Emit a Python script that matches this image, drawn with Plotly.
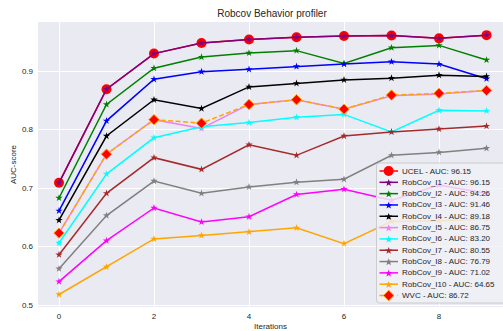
import math
import plotly.graph_objects as go

# ---------------- data ----------------
iterations = [0, 1, 2, 3, 4, 5, 6, 7, 8, 9]

ucel       = [0.709, 0.869, 0.930, 0.948, 0.954, 0.958, 0.960, 0.961, 0.956, 0.9615]
robcov_i1  = [0.709, 0.869, 0.930, 0.948, 0.954, 0.958, 0.960, 0.961, 0.956, 0.9615]
robcov_i2  = [0.683, 0.843, 0.905, 0.924, 0.931, 0.935, 0.913, 0.940, 0.944, 0.919]
robcov_i3  = [0.661, 0.815, 0.886, 0.899, 0.903, 0.908, 0.912, 0.916, 0.912, 0.887]
robcov_i4  = [0.645, 0.789, 0.851, 0.836, 0.873, 0.879, 0.885, 0.888, 0.893, 0.891]
robcov_i5  = [0.623, 0.758, 0.817, 0.802, 0.843, 0.851, 0.835, 0.858, 0.861, 0.867]
robcov_i6  = [0.606, 0.724, 0.786, 0.805, 0.812, 0.821, 0.826, 0.796, 0.833, 0.832]
robcov_i7  = [0.586, 0.691, 0.752, 0.732, 0.774, 0.756, 0.789, 0.796, 0.801, 0.806]
robcov_i8  = [0.562, 0.653, 0.712, 0.691, 0.702, 0.710, 0.715, 0.756, 0.761, 0.768]
robcov_i9  = [0.540, 0.610, 0.666, 0.642, 0.651, 0.689, 0.698, 0.679, 0.705, 0.691]
robcov_i10 = [0.518, 0.565, 0.613, 0.619, 0.625, 0.632, 0.605, 0.643, 0.644, 0.6465]
wvc        = [0.623, 0.758, 0.817, 0.811, 0.843, 0.851, 0.835, 0.859, 0.862, 0.867]

labels = [
    "UCEL - AUC: 96.15",
    "RobCov_I1 - AUC: 96.15",
    "RobCov_I2 - AUC: 94.26",
    "RobCov_I3 - AUC: 91.46",
    "RobCov_I4 - AUC: 89.18",
    "RobCov_I5 - AUC: 86.75",
    "RobCov_I6 - AUC: 83.20",
    "RobCov_I7 - AUC: 80.55",
    "RobCov_I8 - AUC: 76.79",
    "RobCov_I9 - AUC: 71.02",
    "RobCov_I10 - AUC: 64.65",
    "WVC - AUC: 86.72",
]
series = [ucel, robcov_i1, robcov_i2, robcov_i3, robcov_i4, robcov_i5,
          robcov_i6, robcov_i7, robcov_i8, robcov_i9, robcov_i10, wvc]

x_ticks = [0, 2, 4, 6, 8]
y_ticks = [0.5, 0.6, 0.7, 0.8, 0.9]
y_tick_text = ["0.5", "0.6", "0.7", "0.8", "0.9"]

# ---------------- styles ----------------
line_colors = ["red", "purple", "green", "blue", "black", "violet", "cyan",
               "brown", "gray", "magenta", "orange", "orange"]
kinds = ["circle"] + ["star"] * 10 + ["diamond"]

W, H = 503, 331
L, R, T, B = 38, 0, 22, 24
TEXT = "#262626"
FONT = "Liberation Sans, Arial, sans-serif"

fig = go.Figure()
for name, ys, col, kind in zip(labels, series, line_colors, kinds):
    if kind == "circle":
        marker = dict(symbol="circle", size=10, color="red")
        line = dict(color=col, width=1.5)
    elif kind == "diamond":
        marker = dict(symbol="diamond", size=8, color="red",
                      line=dict(color="orange", width=1))
        line = dict(color=col, width=1.5, dash="5px,2.5px")
    else:
        marker = dict(symbol="star", size=5.5, color=col)
        line = dict(color=col, width=1.5)
    fig.add_trace(go.Scatter(x=iterations, y=ys, mode="lines+markers",
                             name=name, line=line, marker=marker,
                             showlegend=False))

# ---------------- hand-drawn legend (matplotlib-like spacing) ----------------
pw, ph = W - L - R, H - T - B


def px(x):
    return (x - L) / pw


def py(y):
    return (H - B - y) / ph


shapes = []
annotations = []

bx0, by0, bx1, by1, rr = 376.5, 163, 510, 303, 3
box_path = (f"M{px(bx0+rr)},{py(by0)} L{px(bx1)},{py(by0)} L{px(bx1)},{py(by1)} "
            f"L{px(bx0+rr)},{py(by1)} Q{px(bx0)},{py(by1)} {px(bx0)},{py(by1-rr)} "
            f"L{px(bx0)},{py(by0+rr)} Q{px(bx0)},{py(by0)} {px(bx0+rr)},{py(by0)} Z")
shapes.append(dict(type="path", xref="paper", yref="paper", path=box_path,
                   fillcolor="rgba(240,240,246,0.82)",
                   line=dict(color="#cccccc", width=1), layer="above"))

row0, step = 171.0, 11.32
hx0, hx1, hm, tx = 379.5, 398, 388.7, 400


def star_path(cx, cy, r):
    pts = []
    for k in range(10):
        ang = math.radians(-90 + 36 * k)
        rad = r if k % 2 == 0 else r * 0.42
        pts.append((cx + rad * math.cos(ang), cy + rad * math.sin(ang)))
    return "M" + " L".join(f"{px(a)},{py(b)}" for a, b in pts) + " Z"


for i, (name, col, kind) in enumerate(zip(labels, line_colors, kinds)):
    yy = row0 + i * step
    shapes.append(dict(type="line", xref="paper", yref="paper",
                       x0=px(hx0), x1=px(hx1), y0=py(yy), y1=py(yy),
                       line=dict(color=col, width=1.5,
                                 dash="dash" if kind == "diamond" else "solid"),
                       layer="above"))
    if kind == "circle":
        rad = 5
        shapes.append(dict(type="circle", xref="paper", yref="paper",
                           x0=px(hm - rad), x1=px(hm + rad),
                           y0=py(yy + rad), y1=py(yy - rad),
                           fillcolor="red", line=dict(color="red", width=0),
                           layer="above"))
    elif kind == "diamond":
        d = 5.3
        path = (f"M{px(hm)},{py(yy-d)} L{px(hm+d)},{py(yy)} "
                f"L{px(hm)},{py(yy+d)} L{px(hm-d)},{py(yy)} Z")
        shapes.append(dict(type="path", xref="paper", yref="paper", path=path,
                           fillcolor="red", line=dict(color="orange", width=1),
                           layer="above"))
    else:
        shapes.append(dict(type="path", xref="paper", yref="paper",
                           path=star_path(hm, yy + 0.5, 3.8),
                           fillcolor=col, line=dict(color=col, width=0),
                           layer="above"))
    annotations.append(dict(xref="paper", yref="paper", x=px(tx), y=py(yy),
                            xanchor="left", yanchor="middle", showarrow=False,
                            text=name, font=dict(size=8, color=TEXT, family=FONT)))

fig.update_layout(
    width=W, height=H,
    margin=dict(l=L, r=R, t=T, b=B, pad=0, autoexpand=False),
    paper_bgcolor="white",
    plot_bgcolor="#EAEAF2",
    font=dict(family=FONT, size=8, color=TEXT),
    title=dict(text="Robcov Behavior profiler", font=dict(size=10, color=TEXT),
               xref="container", x=272 / W, xanchor="center",
               yref="container", y=1 - 13.5 / H, yanchor="middle"),
    xaxis=dict(range=[-0.442, 9.347], tickvals=x_ticks, showgrid=True,
               gridcolor="white", gridwidth=1, zeroline=False, showline=False,
               ticks="", ticklen=0, ticklabelstandoff=3, automargin=False,
               title=dict(text="Iterations", standoff=2.5, font=dict(size=8))),
    yaxis=dict(range=[0.4966, 0.984], tickvals=y_ticks, ticktext=y_tick_text,
               showgrid=True, gridcolor="white", gridwidth=1, zeroline=False,
               showline=False, ticks="", ticklen=0, ticklabelstandoff=4,
               automargin=False,
               title=dict(text="AUC-score", standoff=4, font=dict(size=8))),
    shapes=shapes,
    annotations=annotations,
    showlegend=False,
)

fig.write_html(
    "out.html",
    config={"displayModeBar": False},
    post_script="document.body.style.margin='0';document.body.style.overflow='hidden';",
)
